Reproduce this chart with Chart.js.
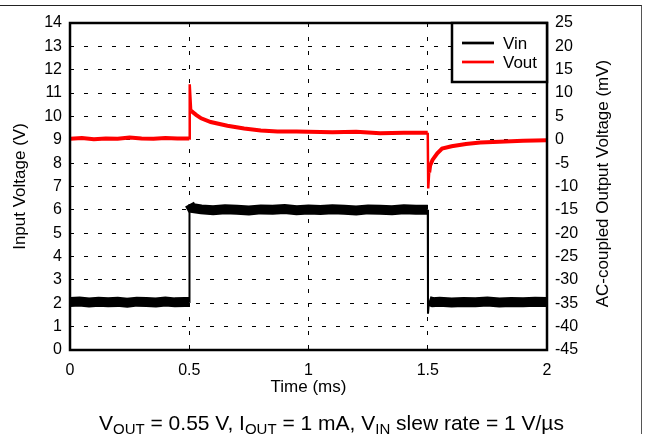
<!DOCTYPE html>
<html>
<head>
<meta charset="utf-8">
<script src="https://cdn.jsdelivr.net/npm/chart.js@4.4.1/dist/chart.umd.min.js"></script>
<style>
  html, body { margin: 0; padding: 0; background: #fff; }
  body { width: 646px; height: 434px; position: relative; overflow: hidden; font-family: 'Liberation Sans', Arial, sans-serif; }
  #frame { position: absolute; left: 0; top: 5px; width: 641px; height: 440px; border-top: 1px solid #222; border-right: 1px solid #555; }
  #chart { position: absolute; left: 0; top: 0; }
  #caption { position: absolute; left: 0; width: 663px; top: 412px; text-align: center; font-size: 21px; line-height: 22px; color: #000; white-space: nowrap; }
  #caption sub { font-size: 15px; vertical-align: -4px; line-height: 0; }
</style>
</head>
<body>
<div id="frame"></div>
<canvas id="chart" width="646" height="434"></canvas>
<div id="caption">V<sub>OUT</sub> = 0.55 V, I<sub>OUT</sub> = 1 mA, V<sub>IN</sub> slew rate = 1 V/µs</div>
<script>
// --- Data ---
const vinTime = [0, 0.04, 0.08, 0.12, 0.16, 0.2, 0.24, 0.28, 0.32, 0.36, 0.4, 0.44, 0.48, 0.5,
    0.501, 0.51, 0.55, 0.6, 0.65, 0.7, 0.75, 0.8, 0.85, 0.9, 0.95, 1.0, 1.05, 1.1, 1.15, 1.2,
    1.25, 1.3, 1.35, 1.4, 1.45, 1.5, 1.501, 1.505, 1.52, 1.55, 1.6, 1.65, 1.7, 1.75, 1.8,
    1.85, 1.9, 1.95, 2.0];
const vinVals = [2.05, 2.08, 2.03, 2.07, 2.04, 2.06, 2.02, 2.07, 2.05, 2.03, 2.08, 2.04, 2.06, 2.05,
    6.25, 6.08, 6.02, 5.98, 6.03, 6.0, 5.97, 6.02, 6.0, 6.04, 5.98, 6.01, 5.99, 6.03, 6.0, 5.97,
    6.02, 6.0, 5.98, 6.03, 6.0, 6.0, 1.55, 2.1, 2.05, 2.07, 2.03, 2.06, 2.04, 2.08, 2.03,
    2.06, 2.04, 2.07, 2.05];

const voutTime = [0, 0.05, 0.1, 0.15, 0.2, 0.25, 0.3, 0.35, 0.4, 0.45, 0.5, 0.502, 0.508, 0.53,
    0.55, 0.59, 0.66, 0.73, 0.8, 0.87, 0.95, 1.0, 1.1, 1.2, 1.3, 1.4, 1.5, 1.502, 1.506, 1.51,
    1.52, 1.54, 1.56, 1.6, 1.66, 1.72, 1.8, 1.9, 2.0];
const voutVals = [0.2, 0.4, 0.1, 0.3, 0.2, 0.5, 0.3, 0.2, 0.4, 0.3, 0.3, 11.9, 6.2, 5.3,
    4.6, 3.8, 3.0, 2.4, 2.0, 1.8, 1.8, 1.7, 1.6, 1.7, 1.4, 1.5, 1.5, -10.4, -7.0, -5.5,
    -4.3, -2.9, -1.9, -1.4, -0.9, -0.6, -0.4, -0.2, -0.1];

const seriesLabels = ['Vin', 'Vout'];
const seriesColors = ['#000000', '#ff0000'];
const xTitle = 'Time (ms)';
const yLeftTitle = 'Input Voltage (V)';
const yRightTitle = 'AC-coupled Output Voltage (mV)';

const FONT = "'Liberation Sans', Arial, sans-serif";
const toPoints = (xs, ys) => xs.map((x, i) => ({ x: x, y: ys[i] }));

// plot frame, right-hand title (reads bottom to top) and boxed legend
const framePlugin = {
    id: 'framePlugin',
    afterDraw(chart) {
        const ctx = chart.ctx;
        const a = chart.chartArea;
        ctx.save();
        ctx.strokeStyle = '#000';
        ctx.lineWidth = 2.5;
        ctx.strokeRect(a.left, a.top, a.right - a.left, a.bottom - a.top);

        // right axis title
        ctx.save();
        ctx.translate(603.5, (a.top + a.bottom) / 2 - 3);
        ctx.rotate(-Math.PI / 2);
        ctx.font = '17px ' + FONT;
        ctx.fillStyle = '#000';
        ctx.textAlign = 'center';
        ctx.textBaseline = 'middle';
        ctx.fillText(yRightTitle, 0, 0);
        ctx.restore();

        // legend box
        const bx = 452, by = a.top, bw = a.right - 452, bh = 59;
        ctx.fillStyle = '#fff';
        ctx.fillRect(bx, by, bw, bh);
        ctx.strokeRect(bx, by, bw, bh);
        ctx.font = '17px ' + FONT;
        ctx.textBaseline = 'middle';
        ctx.textAlign = 'left';
        seriesLabels.forEach((lab, i) => {
            const y = by + 20 + i * 19;
            ctx.strokeStyle = seriesColors[i];
            ctx.lineWidth = 2.7;
            ctx.beginPath();
            ctx.moveTo(462, y);
            ctx.lineTo(494, y);
            ctx.stroke();
            ctx.fillStyle = '#000';
            ctx.fillText(lab, 503, y + 1);
        });
        ctx.restore();
    }
};

Chart.defaults.font.family = FONT;
Chart.defaults.font.size = 16;
Chart.defaults.color = '#000';

const gridOpts = { color: '#000', lineWidth: 1, drawTicks: false };
const dashBorder = { display: false, dash: [4, 10] };

new Chart(document.getElementById('chart'), {
    type: 'line',
    data: {
        datasets: [
            {
                label: seriesLabels[0],
                data: toPoints(vinTime, vinVals),
                yAxisID: 'y',
                borderColor: seriesColors[0],
                borderWidth: 10,
                pointRadius: 0,
                tension: 0,
                segment: {
                    borderWidth: c => Math.abs(c.p1.parsed.y - c.p0.parsed.y) > 0.3 ? 2 : 10
                }
            },
            {
                label: seriesLabels[1],
                data: toPoints(voutTime, voutVals),
                yAxisID: 'y2',
                borderColor: seriesColors[1],
                borderWidth: 4,
                pointRadius: 0,
                tension: 0,
                segment: {
                    borderWidth: c => Math.abs(c.p1.parsed.y - c.p0.parsed.y) > 3 ? 2.5 : 4
                }
            }
        ]
    },
    options: {
        responsive: false,
        animation: false,
        devicePixelRatio: 1,
        layout: { padding: { top: 23, left: 0, right: 0, bottom: 0 } },
        plugins: { legend: { display: false }, tooltip: { enabled: false } },
        scales: {
            x: {
                type: 'linear',
                min: 0, max: 2,
                ticks: { stepSize: 0.5, padding: 11, maxRotation: 0, callback: v => String(v) },
                grid: gridOpts,
                border: dashBorder,
                title: { display: true, text: xTitle, font: { size: 17 }, padding: { top: 0, bottom: 36.5 } },
                afterFit: s => { s.height = 84; }
            },
            y: {
                position: 'left',
                min: 0, max: 14,
                ticks: { stepSize: 1, padding: 8 },
                grid: gridOpts,
                border: dashBorder,
                title: { display: true, text: yLeftTitle, font: { size: 17 }, padding: { top: 10.5, bottom: 0 } },
                afterFit: s => { s.width = 70; }
            },
            y2: {
                position: 'right',
                min: -45, max: 25,
                ticks: { stepSize: 5, padding: 8 },
                grid: { display: false, drawTicks: false },
                border: { display: false },
                title: { display: false },
                afterFit: s => { s.width = 99; }
            }
        }
    },
    plugins: [framePlugin]
});
</script>
</body>
</html>
